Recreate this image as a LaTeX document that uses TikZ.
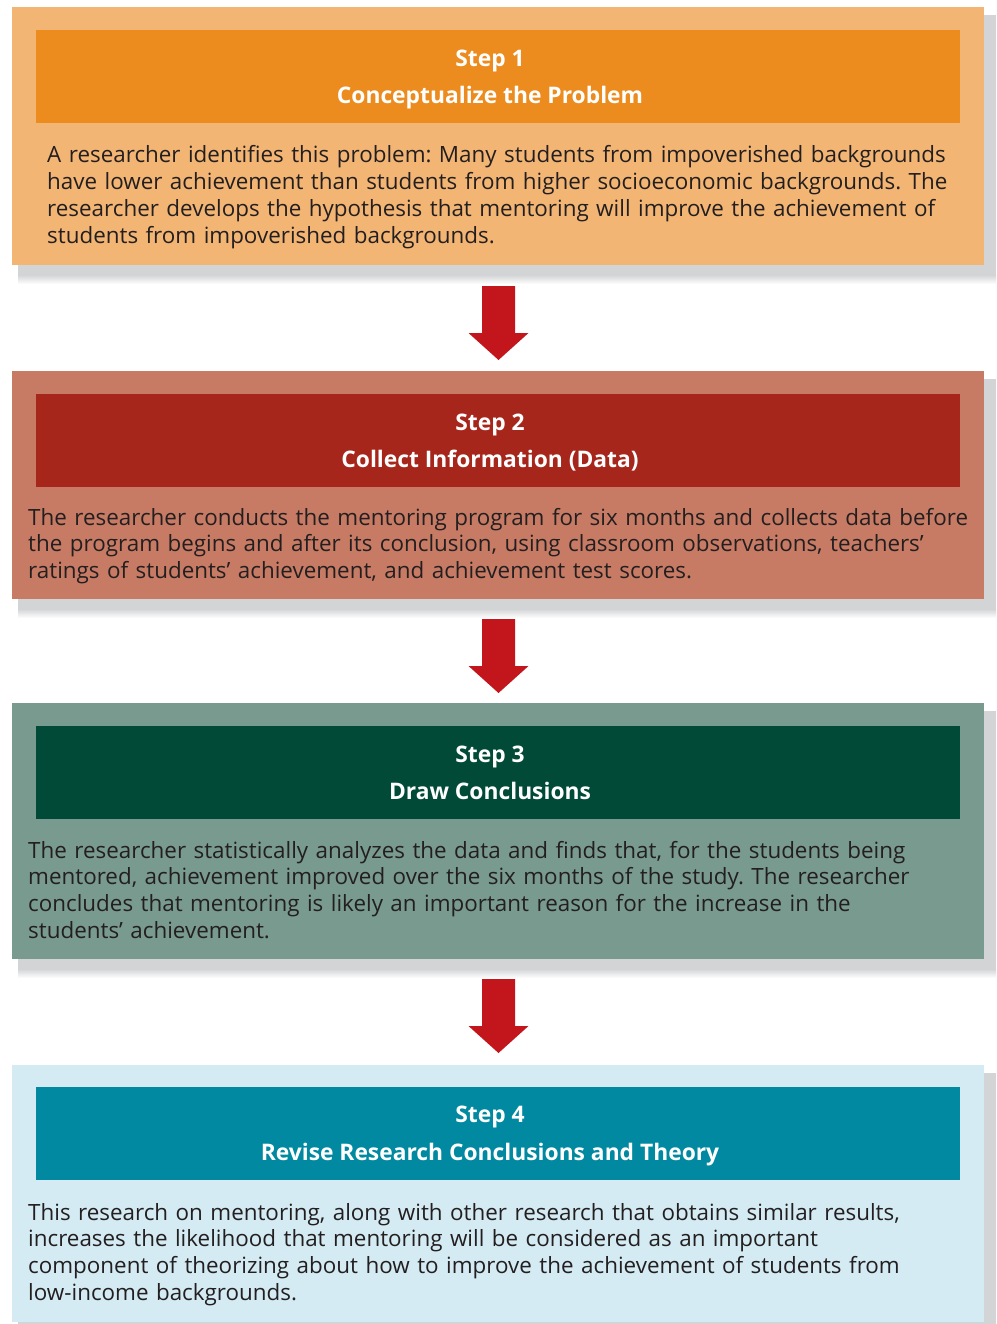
\documentclass[tikz,border=0pt]{standalone}
\usepackage{fontspec}
\setmainfont{Open Sans}
\usetikzlibrary{calc}

\definecolor{bgA}{RGB}{243,181,116}
\definecolor{hdA}{RGB}{236,140,30}
\definecolor{bgB}{RGB}{200,123,100}
\definecolor{hdB}{RGB}{166,38,27}
\definecolor{bgC}{RGB}{120,154,143}
\definecolor{hdC}{RGB}{0,74,55}
\definecolor{bgD}{RGB}{212,235,243}
\definecolor{hdD}{RGB}{0,137,160}
\definecolor{arrowred}{RGB}{195,21,28}
\definecolor{inkdark}{RGB}{35,31,32}
\definecolor{shadowgrey}{RGB}{211,212,214}

\tikzset{
  panel/.style={anchor=north west, inner sep=0pt, draw=none, minimum width=972pt, fill=#1},
  banner/.style={anchor=north west, inner sep=0pt, draw=none, minimum width=924pt, minimum height=93pt, fill=#1},
  headtext/.style={anchor=base, inner sep=0pt, text=white, font=\fontsize{22.8}{27}\selectfont\bfseries},
  bodytext/.style={anchor=base west, inner sep=0pt, text=inkdark, align=left, text width=970pt,
                   font=\fontsize{22.4}{26.67}\selectfont\frenchspacing},
  downarrow/.style={fill=arrowred, draw=none}
}

% soft drop shadow behind a panel: #1 = top edge, #2 = bottom edge
\newcommand{\panelshadow}[2]{%
  \fill[shadowgrey] (18,#1+8) rectangle (996,#2+10);
  \shade[top color=shadowgrey, bottom color=white] (18,#2+10) rectangle (996,#2+19);
}
% block arrow pointing down, hanging from a named coordinate
\newcommand{\blockarrow}[1]{%
  \fill[downarrow] (#1) ++(-16.5,0) -- ++(33,0) -- ++(0,47) -- ++(13.5,0)
    -- ++(-30,27) -- ++(-30,-27) -- ++(13.5,0) -- cycle;
}

\begin{document}
\begin{tikzpicture}[x=1pt,y=-1pt]
\useasboundingbox (0,0) rectangle (996,1324);
\fill[white] (0,0) rectangle (996,1324);

% ---------- Step 1 ----------
\panelshadow{7}{265}
\node[panel=bgA, minimum height=258pt] (b1) at (12,7) {};
\node[banner=hdA] (h1) at (36,30) {};
\node[headtext] (t1) at (490,66.7) {Step 1};
\node[headtext] (s1) at (490,103.3) {Conceptualize the Problem};
\node[bodytext] (p1) at (47,163) {A researcher identifies this problem: Many students from impoverished backgrounds\\
have lower achievement than students from higher socioeconomic backgrounds. The\\
researcher develops the hypothesis that mentoring will improve the achievement of\\
students from impoverished backgrounds.};

\coordinate (a1) at (498.5,286);
\blockarrow{a1}

% ---------- Step 2 ----------
\panelshadow{371}{599}
\node[panel=bgB, minimum height=228pt] (b2) at (12,371) {};
\node[banner=hdB] (h2) at (36,394) {};
\node[headtext] (t2) at (490,430.5) {Step 2};
\node[headtext] (s2) at (490,467) {Collect Information (Data)};
\node[bodytext] (p2) at (28,525) {The researcher conducts the mentoring program for six months and collects data before\\
the program begins and after its conclusion, using classroom observations, teachers’\\
ratings of students’ achievement, and achievement test scores.};

\coordinate (a2) at (498.5,619);
\blockarrow{a2}

% ---------- Step 3 ----------
\panelshadow{703}{959}
\node[panel=bgC, minimum height=256pt] (b3) at (12,703) {};
\node[banner=hdC] (h3) at (36,726) {};
\node[headtext] (t3) at (490,762.5) {Step 3};
\node[headtext] (s3) at (490,799) {Draw Conclusions};
\node[bodytext] (p3) at (28,858) {The researcher statistically analyzes the data and finds that, for the students being\\
mentored, achievement improved over the six months of the study. The researcher\\
concludes that mentoring is likely an important reason for the increase in the\\
students’ achievement.};

\coordinate (a3) at (498.5,979);
\blockarrow{a3}

% ---------- Step 4 ----------
\panelshadow{1065}{1322}
\node[panel=bgD, minimum height=257pt] (b4) at (12,1065) {};
\node[banner=hdD] (h4) at (36,1087) {};
\node[headtext] (t4) at (490,1122.5) {Step 4};
\node[headtext] (s4) at (490,1160) {Revise Research Conclusions and Theory};
\node[bodytext] (p4) at (28,1220) {This research on mentoring, along with other research that obtains similar results,\\
increases the likelihood that mentoring will be considered as an important\\
component of theorizing about how to improve the achievement of students from\\
low-income backgrounds.};
\end{tikzpicture}
\end{document}
